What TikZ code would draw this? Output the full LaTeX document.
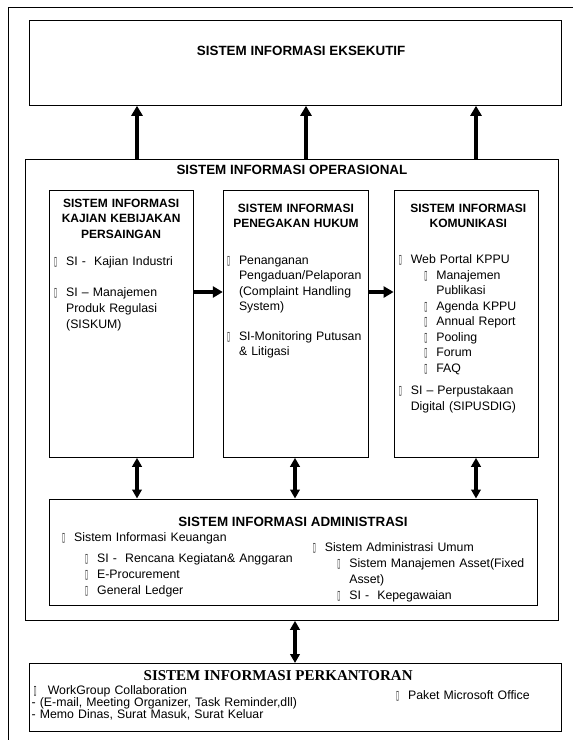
\documentclass[tikz,border=0pt]{standalone}
\usepackage{fontspec}
\setmainfont{Liberation Sans}
\newfontfamily\hurufserif{Liberation Serif}
\newfontfamily\hurufsimbol{DejaVu Sans}
\usepackage{graphicx}
\usetikzlibrary{arrows.meta, positioning}

\newcommand{\kotak}{{\hurufsimbol\fontsize{10}{10}\selectfont\scalebox{0.55}[1.25]{▯}}}
\newcommand{\butir}{\makebox[12pt][l]{\kotak}}
\newcommand{\sisip}[1]{\hspace*{#1}}

\tikzset{
  kotakbesar/.style={draw, line width=0.8pt, inner sep=0pt, anchor=north west},
  judul/.style={font=\bfseries\fontsize{13.4}{16}\selectfont, inner sep=0pt, anchor=base},
  judulkecil/.style={font=\bfseries\fontsize{12}{15.5}\selectfont, inner sep=0pt, anchor=base, align=center, text width=140pt},
  isi/.style={font=\fontsize{12.3}{15.5}\selectfont, inner sep=0pt, anchor=base west, align=left, text width=140pt},
  panahtebal/.style={line width=4.5pt, -{Triangle[length=10pt, width=11pt]}},
  panahdua/.style={line width=3.2pt, {Triangle[length=9pt, width=9.5pt]}-{Triangle[length=9pt, width=9.5pt]}}
}

\begin{document}
\begin{tikzpicture}[x=1pt, y=-1pt]
  \useasboundingbox (0,0) rectangle (573,740);
  \draw[line width=0.8pt] (573,7.5) -| (8,740);

  \node[kotakbesar, minimum width=532.5pt, minimum height=85pt] (eks) at (28.5,20) {};
  \node[kotakbesar, minimum width=533pt, minimum height=461pt] (ops) at (25,159) {};
  \node[kotakbesar, minimum width=144.5pt, minimum height=267pt] (kaj) at (48.5,190) {};
  \node[kotakbesar, minimum width=145.5pt, minimum height=267pt, right=29pt of kaj] (pen) {};
  \node[kotakbesar, minimum width=144.5pt, minimum height=267pt, right=24.5pt of pen] (kom) {};
  \node[kotakbesar, minimum width=488pt, minimum height=106pt] (adm) at (48.6,498.5) {};
  \node[kotakbesar, minimum width=532.5pt, minimum height=68pt] (kan) at (28.5,663) {};

  \node[judul] (eksT) at ([xshift=6pt, yshift=-35.8pt]eks.north) {SISTEM INFORMASI EKSEKUTIF};
  \node[judul] (opsT) at ([yshift=-15.8pt]ops.north) {SISTEM INFORMASI OPERASIONAL};
  \node[judul] (admT) at ([yshift=-27.8pt]adm.north) {SISTEM INFORMASI ADMINISTRASI};
  \node[judul, font=\hurufserif\bfseries\fontsize{15}{17}\selectfont] (kanT) at ([xshift=-17pt, yshift=-17pt]kan.north) {SISTEM INFORMASI PERKANTORAN};

  \node[judulkecil] (kajT) at ([yshift=-17.3pt]kaj.north) {SISTEM INFORMASI\\KAJIAN KEBIJAKAN\\PERSAINGAN};
  \node[judulkecil] (penT) at ([yshift=-22.3pt]pen.north) {SISTEM INFORMASI\\PENEGAKAN HUKUM};
  \node[judulkecil] (komT) at ([xshift=2pt, yshift=-22.3pt]kom.north) {SISTEM INFORMASI\\KOMUNIKASI};

  \node[isi, font=\fontsize{12.3}{16}\selectfont] (kajL) at ([xshift=5.5pt, yshift=-75pt]kaj.north west)
    {\butir SI -~~Kajian Industri\\[15pt]
     \butir SI – Manajemen\\
     \sisip{12pt}Produk Regulasi\\
     \sisip{12pt}(SISKUM)};
  \node[isi] (penL) at ([xshift=4pt, yshift=-74.3pt]pen.north west)
    {\butir Penanganan\\
     \sisip{12pt}Pengaduan/Pelaporan\\
     \sisip{12pt}(Complaint Handling\\
     \sisip{12pt}System)\\[14pt]
     \butir SI-Monitoring Putusan\\
     \sisip{12pt}\& Litigasi};
  \node[isi] (komL) at ([xshift=5pt, yshift=-73.6pt]kom.north west)
    {\butir Web Portal KPPU\\
     \sisip{25.5pt}\butir Manajemen\\
     \sisip{37.5pt}Publikasi\\
     \sisip{25.5pt}\butir Agenda KPPU\\
     \sisip{25.5pt}\butir Annual Report\\
     \sisip{25.5pt}\butir Pooling\\
     \sisip{25.5pt}\butir Forum\\
     \sisip{25.5pt}\butir FAQ\\[7pt]
     \butir SI – Perpustakaan\\
     \sisip{12pt}Digital (SIPUSDIG)};

  \node[isi, font=\fontsize{12.3}{16.3}\selectfont, text width=240pt] (admL) at ([xshift=13.4pt, yshift=-42.8pt]adm.north west)
    {\butir Sistem Informasi Keuangan\\[4.5pt]
     \sisip{23pt}\butir SI -~~Rencana Kegiatan\& Anggaran\\
     \sisip{23pt}\butir E-Procurement\\
     \sisip{23pt}\butir General Ledger};
  \node[isi, font=\fontsize{12.3}{16.1}\selectfont, text width=215pt] (admR) at ([xshift=264pt, yshift=-52.5pt]adm.north west)
    {\butir Sistem Administrasi Umum\\
     \sisip{24.5pt}\butir Sistem Manajemen Asset(Fixed\\
     \sisip{36.5pt}Asset)\\
     \sisip{24.5pt}\butir SI -~~Kepegawaian};

  \node[isi, font=\fontsize{12.3}{12}\selectfont, text width=320pt] (kanL) at ([xshift=3pt, yshift=-31.2pt]kan.north west)
    {\sisip{2pt}\makebox[10pt][l]{\kotak}\ WorkGroup Collaboration\\
     - (E-mail, Meeting Organizer, Task Reminder,dll)\\
     - Memo Dinas, Surat Masuk, Surat Keluar};
  \node[isi, font=\fontsize{12.3}{12}\selectfont] (kanR) at ([xshift=367.5pt, yshift=-36.2pt]kan.north west)
    {\butir Paket Microsoft Office};

  \coordinate (x1) at (137,0);
  \coordinate (x2) at (306,0);
  \coordinate (x3) at (476,0);
  \coordinate (x4) at (295,0);
  \coordinate (y1) at (0,292);

  \draw[panahtebal] (ops.north -| x1) -- (eks.south -| x1);
  \draw[panahtebal] (ops.north -| x2) -- (eks.south -| x2);
  \draw[panahtebal] (ops.north -| x3) -- (eks.south -| x3);
  \draw[panahtebal] (kaj.east |- y1) -- (pen.west |- y1);
  \draw[panahtebal] (pen.east |- y1) -- (kom.west |- y1);
  \draw[panahdua] (kaj.south -| x1) -- (adm.north -| x1);
  \draw[panahdua] (pen.south -| x4) -- (adm.north -| x4);
  \draw[panahdua] (kom.south -| x3) -- (adm.north -| x3);
  \draw[panahdua] (ops.south -| x4) -- (kan.north -| x4);
\end{tikzpicture}
\end{document}
